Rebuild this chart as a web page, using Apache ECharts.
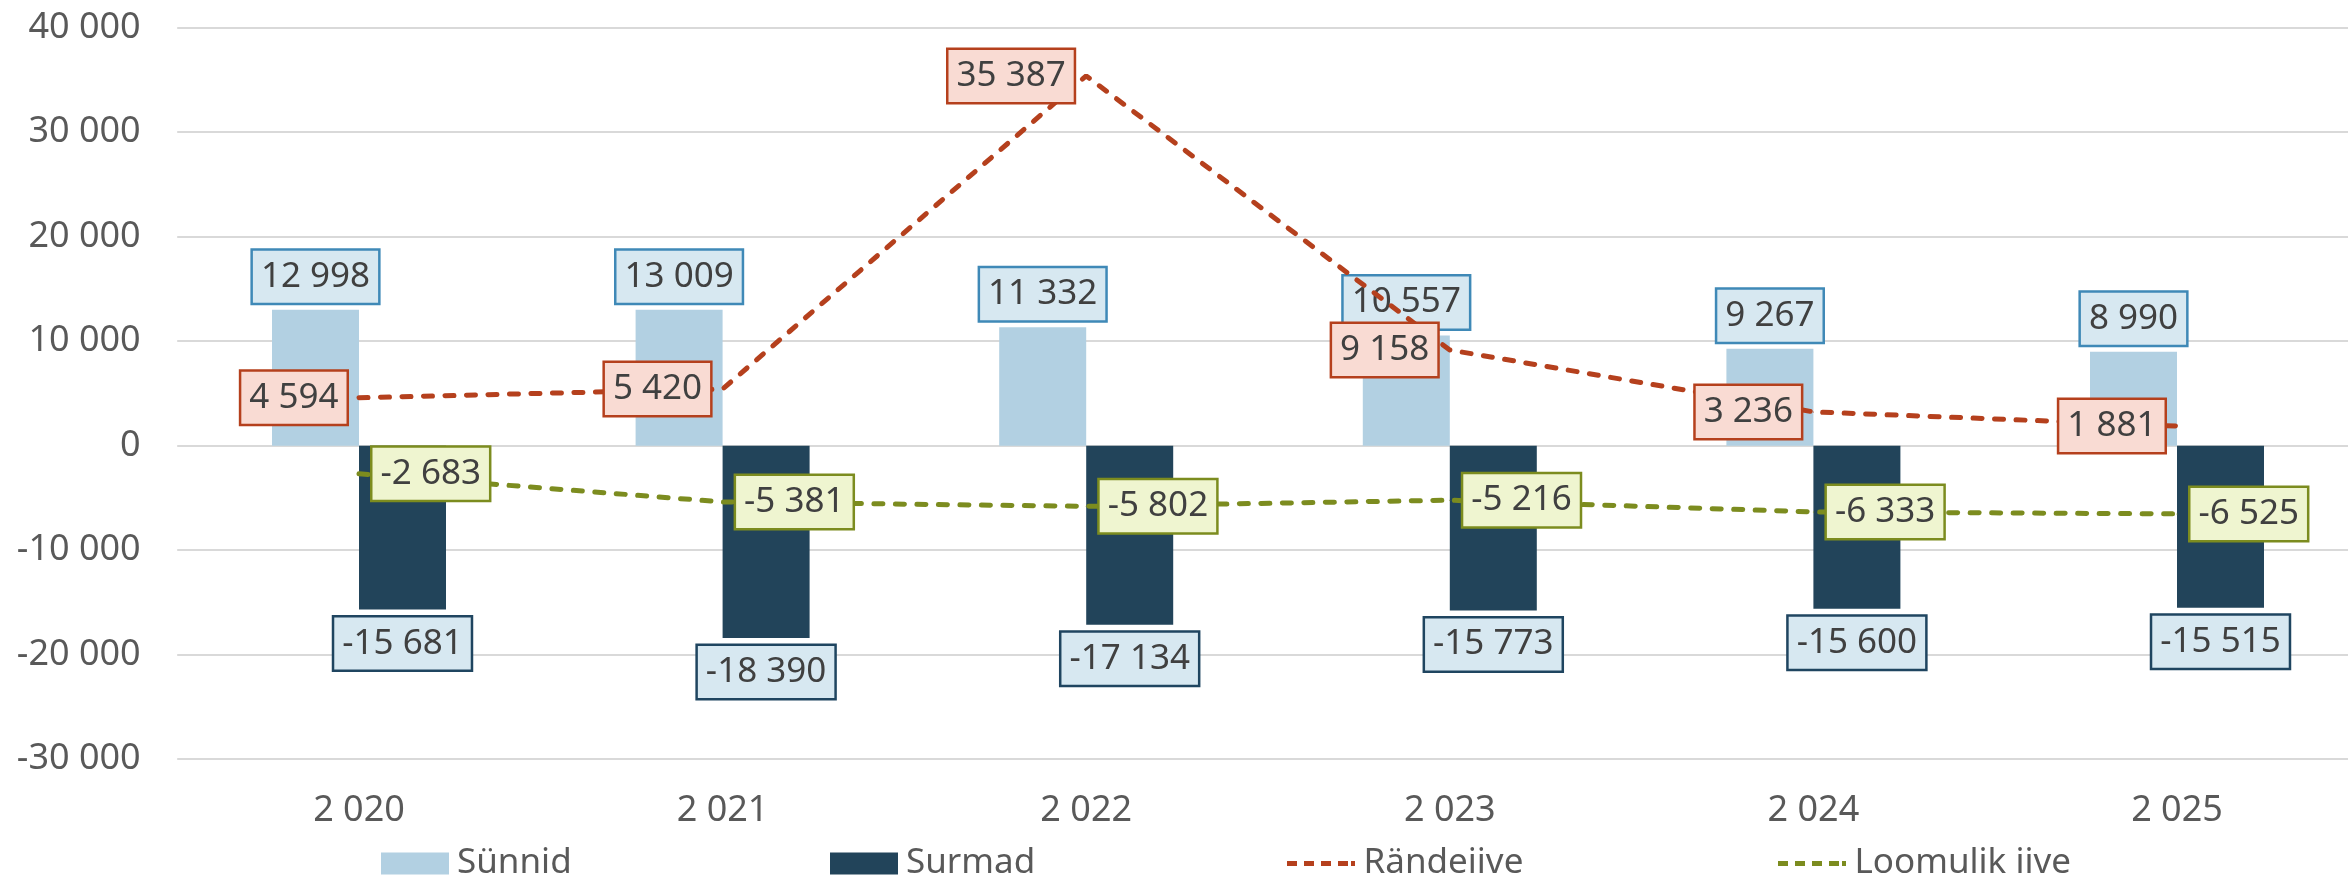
<!DOCTYPE html>
<html>
<head>
<meta charset="utf-8">
<script src="https://cdn.jsdelivr.net/npm/echarts@6/dist/echarts.min.js"></script>
<style>
html,body{margin:0;padding:0;background:#fff;}
#chart{width:2348px;height:881px;}
</style>
</head>
<body>
<div id="chart"></div>
<script>
const categories = ['2 020', '2 021', '2 022', '2 023', '2 024', '2 025'];
const sunnid = [12998, 13009, 11332, 10557, 9267, 8990];
const surmad = [-15681, -18390, -17134, -15773, -15600, -15515];
const randeiive = [4594, 5420, 35387, 9158, 3236, 1881];
const loomulikIive = [-2683, -5381, -5802, -5216, -6333, -6525];
const seriesNames = ['Sünnid', 'Surmad', 'Rändeiive', 'Loomulik iive'];

function fmt(v) {
  const n = Math.round(Number(v));
  const s = String(Math.abs(n)).replace(/\B(?=(\d{3})+(?!\d))/g, ' ');
  return (n < 0 ? '-' : '') + s;
}

const FONT = 'Noto Sans';
const labelBase = {
  show: true,
  fontFamily: FONT,
  fontSize: 35,
  color: '#404040',
  lineHeight: 40,
  padding: [6, 8, 6, 8],
  borderWidth: 2.5,
  formatter: p => fmt(p.value)
};

const dashPath = 'path://M0,0h10v5h-10z M17,0h10v5h-10z M34,0h10v5h-10z M51,0h10v5h-10z M64,0h4v5h-4z';
const legendText = {fontFamily: FONT, fontSize: 35, color: '#595959', lineHeight: 44};
const LEG_TOP = 841.5;

const chart = echarts.init(document.getElementById('chart'), null, {renderer: 'canvas'});
chart.setOption({
  animation: false,
  backgroundColor: '#ffffff',
  grid: {left: 177.2, top: 27.7, width: 2181.6, height: 731.5, containLabel: false, outerBoundsMode: 'none'},
  legend: [
    {data: [{name: seriesNames[0], icon: 'rect'}], left: 381, top: LEG_TOP, padding: 0, itemWidth: 68, itemHeight: 22, textStyle: Object.assign({padding: [0,0,0,3]}, legendText)},
    {data: [{name: seriesNames[1], icon: 'rect'}], left: 830, top: LEG_TOP, padding: 0, itemWidth: 68, itemHeight: 22, textStyle: Object.assign({padding: [0,0,0,3]}, legendText)},
    {data: [{name: seriesNames[2], icon: dashPath}], left: 1287, top: LEG_TOP, padding: 0, itemWidth: 71, itemHeight: 5, textStyle: Object.assign({padding: [0,0,0,2]}, legendText)},
    {data: [{name: seriesNames[3], icon: dashPath}], left: 1778, top: LEG_TOP, padding: 0, itemWidth: 71, itemHeight: 5, textStyle: Object.assign({padding: [0,0,0,2]}, legendText)}
  ],
  xAxis: {
    type: 'category',
    data: categories,
    axisLine: {show: false, onZero: false},
    axisTick: {show: false},
    axisLabel: {fontFamily: FONT, fontSize: 36, color: '#595959', margin: 34},
    splitLine: {show: false}
  },
  yAxis: {
    type: 'value',
    min: -30000,
    max: 40000,
    interval: 10000,
    axisLine: {show: false},
    axisTick: {show: false},
    axisLabel: {fontFamily: FONT, fontSize: 36, color: '#595959', margin: 36.5, formatter: v => fmt(v)},
    splitLine: {lineStyle: {color: '#d9d9d9', width: 2}}
  },
  series: [
    {
      name: seriesNames[0], type: 'bar', data: sunnid, barWidth: 87, barGap: '0%',
      itemStyle: {color: '#b2d0e2'},
      label: Object.assign({}, labelBase, {position: 'top', distance: 7, backgroundColor: '#d7e8f1', borderColor: '#3f89b7'}),
      z: 2
    },
    {
      name: seriesNames[1], type: 'bar', data: surmad, barWidth: 87, barGap: '0%',
      itemStyle: {color: '#22445a'},
      label: Object.assign({}, labelBase, {position: 'bottom', distance: 8, backgroundColor: '#d7e8f1', borderColor: '#1f4560'}),
      z: 2
    },
    {
      name: seriesNames[2], type: 'line', data: randeiive,
      symbol: 'circle', symbolSize: 1, showSymbol: true,
      itemStyle: {color: '#b5401d'},
      lineStyle: {color: '#b5401d', width: 5, type: [9, 12.5], cap: 'round'},
      label: Object.assign({}, labelBase, {position: 'left', distance: 12, backgroundColor: '#f9dbd3', borderColor: '#b5401d'}),
      z: 5
    },
    {
      name: seriesNames[3], type: 'line', data: loomulikIive,
      symbol: 'circle', symbolSize: 1, showSymbol: true,
      itemStyle: {color: '#7c8c1f'},
      lineStyle: {color: '#7c8c1f', width: 5, type: [9, 12.5], cap: 'round'},
      label: Object.assign({}, labelBase, {position: 'right', distance: 13, backgroundColor: '#eff5d0', borderColor: '#7c8c1f'}),
      z: 6
    }
  ]
});
</script>
</body>
</html>
